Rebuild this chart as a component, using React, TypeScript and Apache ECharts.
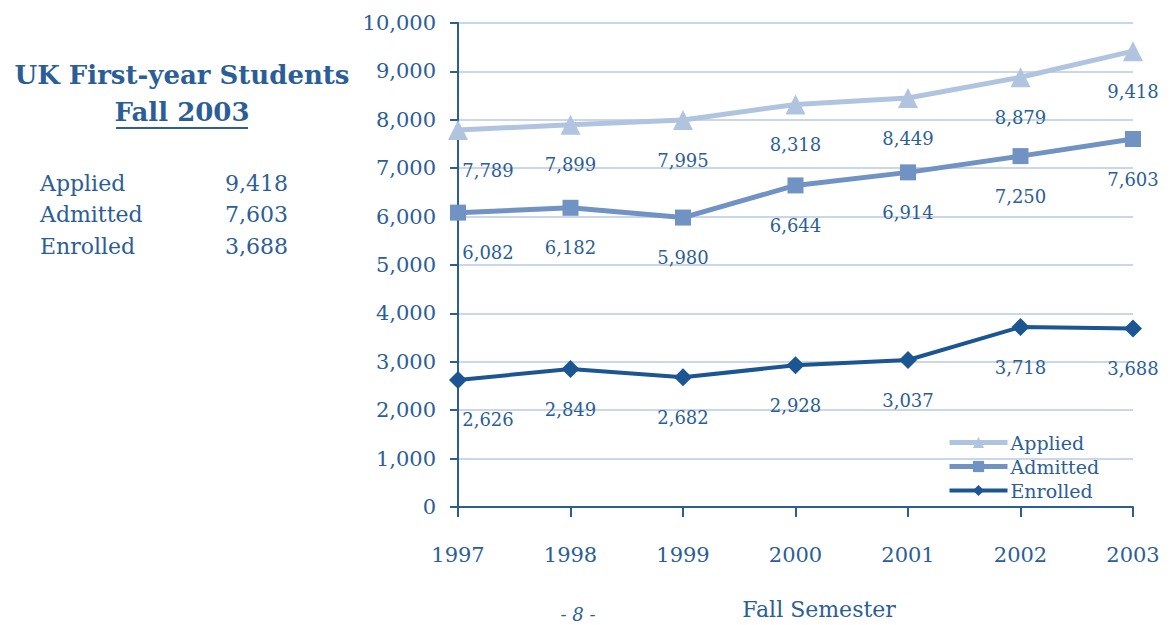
import React, { useEffect, useRef } from "react";
import * as echarts from "echarts";

const years = ["1997", "1998", "1999", "2000", "2001", "2002", "2003"];
const applied = [7789, 7899, 7995, 8318, 8449, 8879, 9418];
const admitted = [6082, 6182, 5980, 6644, 6914, 7250, 7603];
const enrolled = [2626, 2849, 2682, 2928, 3037, 3718, 3688];
const seriesNames = ["Applied", "Admitted", "Enrolled"];
const tableValues = ["9,418", "7,603", "3,688"];
const titleLines = ["UK First-year Students", "Fall 2003"];
const xAxisName = "Fall Semester";
const pageNote = "- 8 -";

const FONT = "DejaVu Serif";
const TXT = "#2b5e97";
const fmt = (v: number) => v.toLocaleString("en-US");

export default function App() {
  const ref = useRef<HTMLDivElement>(null);
  useEffect(() => {
    if (!ref.current) return;
    const chart = echarts.init(ref.current, undefined, { renderer: "svg" });
    const colors = ["#b0c4df", "#7093c3", "#1b5592"];
    const symbols = ["triangle", "rect", "diamond"];
    const sizes = [20, 16, 18];
    const widths = [5, 5, 4];
    const datasets = [applied, admitted, enrolled];

    const series = datasets.map((arr, si) => ({
      name: seriesNames[si],
      type: "line",
      data: arr.map((v, i) =>
        i === 0
          ? { value: v, label: { offset: [30, 40] } }
          : { value: v }
      ),
      symbol: symbols[si],
      symbolSize: sizes[si],
      lineStyle: { color: colors[si], width: widths[si] },
      itemStyle: { color: colors[si] },
      label: {
        show: true,
        position: "inside",
        offset: [0, 40],
        formatter: (p: any) => fmt(p.value),
        color: TXT,
        fontFamily: FONT,
        fontSize: 18,
      },
      z: 10 - si,
    }));

    const graphics: any[] = [
      {
        type: "text",
        x: 182,
        y: 75,
        style: {
          text: titleLines[0],
          fontFamily: FONT,
          fontWeight: "bold",
          fontSize: 26,
          fill: TXT,
          align: "center",
          verticalAlign: "middle",
        },
      },
      {
        type: "text",
        x: 182,
        y: 112,
        style: {
          text: titleLines[1],
          fontFamily: FONT,
          fontWeight: "bold",
          fontSize: 26,
          fill: TXT,
          align: "center",
          verticalAlign: "middle",
        },
      },
      {
        type: "line",
        shape: { x1: 116, y1: 128, x2: 248, y2: 128 },
        style: { stroke: TXT, lineWidth: 2 },
      },
      {
        type: "text",
        x: 578,
        y: 614,
        style: {
          text: pageNote,
          fontFamily: FONT,
          fontStyle: "italic",
          fontSize: 18,
          fill: TXT,
          align: "center",
          verticalAlign: "middle",
        },
      },
      {
        type: "text",
        x: 819,
        y: 609,
        style: {
          text: xAxisName,
          fontFamily: FONT,
          fontSize: 22,
          fill: TXT,
          align: "center",
          verticalAlign: "middle",
        },
      },
    ];
    seriesNames.forEach((n, i) => {
      const y = 183 + i * 31.5;
      graphics.push({
        type: "text",
        x: 40,
        y,
        style: { text: n, fontFamily: FONT, fontSize: 22, fill: TXT, verticalAlign: "middle" },
      });
      graphics.push({
        type: "text",
        x: 288,
        y,
        style: {
          text: tableValues[i],
          fontFamily: FONT,
          fontSize: 22,
          fill: TXT,
          align: "right",
          verticalAlign: "middle",
        },
      });
    });

    chart.setOption({
      animation: false,
      backgroundColor: "#ffffff",
      grid: { left: 458, right: 39, top: 23, bottom: 118, containLabel: false },
      legend: {
        orient: "vertical",
        left: 942,
        top: 428,
        itemWidth: 58,
        itemHeight: 14,
        itemGap: 5,
        data: seriesNames,
        lineStyle: { width: "inherit" },
        textStyle: { color: TXT, fontFamily: FONT, fontSize: 19, lineHeight: 14, padding: [0, 0, 0, -2] },
      },
      xAxis: {
        type: "category",
        data: years,
        boundaryGap: false,
        axisLine: { lineStyle: { color: TXT, width: 2 } },
        axisTick: { show: true, length: 10, lineStyle: { color: TXT, width: 2 } },
        axisLabel: { color: TXT, fontFamily: FONT, fontSize: 21, margin: 37 },
      },
      yAxis: {
        type: "value",
        min: 0,
        max: 10000,
        interval: 1000,
        axisLine: { show: true, lineStyle: { color: TXT, width: 2 } },
        axisTick: { show: true, length: 8, lineStyle: { color: TXT, width: 2 } },
        axisLabel: {
          color: TXT,
          fontFamily: FONT,
          fontSize: 21,
          margin: 22,
          formatter: (v: number) => fmt(v),
        },
        splitLine: { lineStyle: { color: "#b9cae2", width: 1.5 } },
      },
      graphic: graphics,
      series,
    });
    return () => chart.dispose();
  }, []);
  return (
    <div
      ref={ref}
      style={{ position: "fixed", left: 0, top: 0, width: 1172, height: 625 }}
    />
  );
}
